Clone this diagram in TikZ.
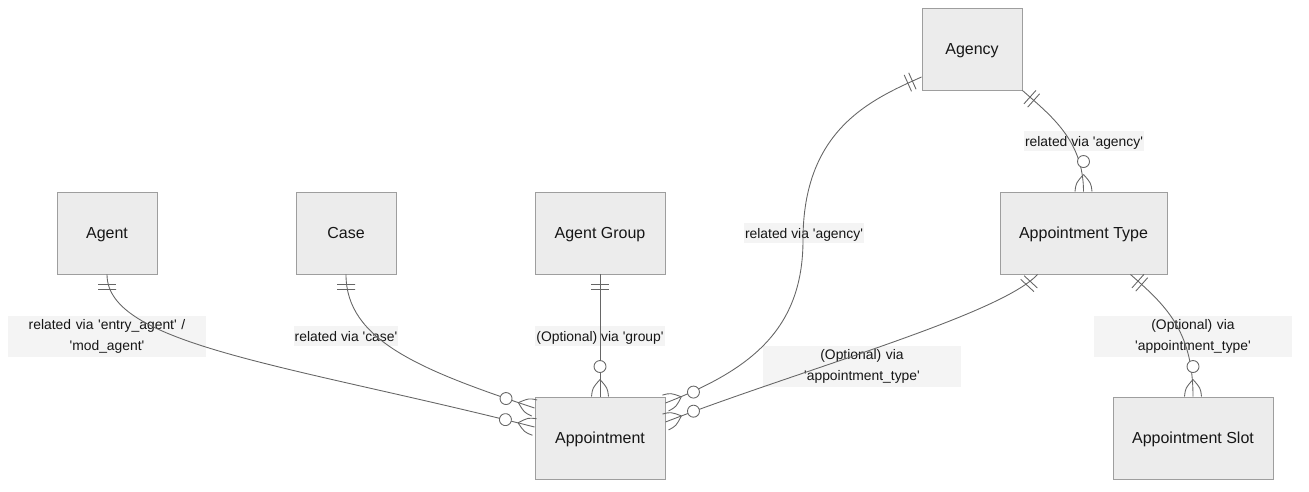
\documentclass[tikz,border=0pt]{standalone}
\usepackage{fontspec}
\setmainfont{Liberation Sans}
\usetikzlibrary{positioning,decorations.markings}
\definecolor{boxfill}{HTML}{ECECEC}
\definecolor{boxline}{HTML}{9E9E9E}
\definecolor{edgecol}{HTML}{666666}
\definecolor{lblfill}{HTML}{F4F4F4}
\definecolor{txt}{HTML}{161616}
\newcommand{\tq}{\textquotesingle}

\begin{document}
\begin{tikzpicture}[x=0.02cm,y=-0.02cm,
  entity/.style={rectangle,draw=boxline,fill=boxfill,line width=0.55pt,text=txt,font=\fontsize{9.1}{11}\selectfont,minimum height=1.64cm,text height=8pt,text depth=1.3pt},
  rel/.style={fill=lblfill,text=txt,font=\fontsize{7.9}{11.9}\selectfont,inner xsep=0.6pt,inner ysep=0pt,minimum height=4mm,text height=7pt,text depth=1.2pt},
  rel2/.style={fill=lblfill,text=txt,font=\fontsize{7.9}{11.9}\selectfont,inner xsep=0.6pt,inner ysep=0pt,text width=3.9cm,align=center,minimum height=8.2mm},
  erline/.style={draw=edgecol,line width=0.5pt},
  onebar/.style={postaction={decorate,decoration={markings,mark=at position 0 with {
    \draw[erline] (2mm,-1.8mm) -- (2mm,1.8mm) (3mm,-1.8mm) -- (3mm,1.8mm);}}}},
  zeromany/.style={postaction={decorate,decoration={markings,mark=at position 0.9999 with {
    \draw[erline] (-3.4mm,0) .. controls (-1.7mm,1.5mm) .. (0,1.7mm) (-3.4mm,0) .. controls (-1.7mm,-1.5mm) .. (0,-1.7mm);
    \draw[erline,fill=white] (-6mm,0) circle (1.2mm);}}}}]
\useasboundingbox (0,0) rectangle (1309,491);

% entities
\node[entity,minimum width=2cm] (agency) at (972,49) {Agency};
\node[entity,minimum width=2cm] (agent) at (107,233) {Agent};
\node[entity,minimum width=2cm] (case) at (346,233) {Case};
\node[entity,minimum width=2.6cm] (agroup) at (600,233) {Agent Group};
\node[entity,minimum width=3.34cm] (atype) at (1083.5,233) {Appointment Type};
\node[entity,minimum width=2.6cm] (appt) at (600,438) {Appointment};
\node[entity,minimum width=3.2cm] (slot) at (1193,438) {Appointment Slot};

% relation labels
\node[rel2] (lagent) at (107,336) {related via \tq entry\_agent\tq\ /\\\tq mod\_agent\tq};
\node[rel] (lcase) at (346,336) {related via \tq case\tq};
\node[rel] (lgroup) at (600,336) {(Optional) via \tq group\tq};
\node[rel] (lagency) at (804,233) {related via \tq agency\tq};
\node[rel] (ltype) at (1084,141) {related via \tq agency\tq};
\node[rel2] (lappt) at (862,366) {(Optional) via\\\tq appointment\_type\tq};
\node[rel2] (lslot) at (1193,336) {(Optional) via\\\tq appointment\_type\tq};

% one to zero-or-many
\draw[erline,onebar,zeromany] (agent.south) .. controls (107,345) and (290,365) .. ([yshift=2.2mm]appt.west);
\draw[erline,onebar,zeromany] (case.south) .. controls (346,340) and (420,370) .. ([yshift=6mm]appt.west);
\draw[erline,onebar,zeromany] (agroup.south) -- (appt.north);
\draw[erline,onebar,zeromany] ([yshift=-5.6mm]agency.west) .. controls (870,100) and (803,130) .. (803,240)
  .. controls (803,330) and (750,370) .. ([yshift=7mm]appt.east);
\draw[erline,onebar,zeromany] (agency.south east) .. controls (1050,115) and (1083.5,140) .. (atype.north);
\draw[erline,onebar,zeromany] ([xshift=-9.2mm]atype.south) .. controls (1000,315) and (800,370) .. ([yshift=3.2mm]appt.east);
\draw[erline,onebar,zeromany] ([xshift=9.4mm]atype.south) .. controls (1165,305) and (1193,330) .. (slot.north);
\end{tikzpicture}
\end{document}
